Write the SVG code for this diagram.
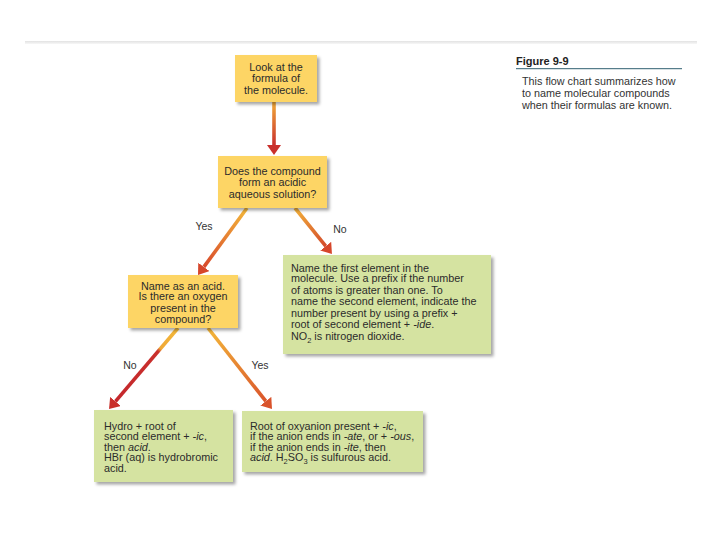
<svg xmlns="http://www.w3.org/2000/svg" width="720" height="540" viewBox="0 0 720 540">
  <style>
    text { font-family: "Liberation Sans", Arial, sans-serif; font-size: 10.8px; fill: #2b2b2b; }
    .c { text-anchor: middle; }
    .lbl { font-size: 10.5px; fill: #333; }
    .yel { fill: #fdd565; }
    .grn { fill: #d5e3a1; }
    .arr { fill: none; stroke-width: 3.6; stroke-linecap: butt; }
    .cap { font-size: 10.8px; fill: #333; }
  </style>
  <defs>
    <filter id="sh" x="-10%" y="-10%" width="125%" height="130%">
      <feDropShadow dx="2.5" dy="2.5" stdDeviation="1.6" flood-color="#000" flood-opacity="0.35"/>
    </filter>
    <linearGradient id="topline" x1="0" y1="0" x2="0" y2="1">
      <stop offset="0" stop-color="#e2e2e2"/>
      <stop offset="1" stop-color="#f7f7f7"/>
    </linearGradient>
    <linearGradient id="g1" gradientUnits="userSpaceOnUse" x1="274" y1="101" x2="274" y2="145">
      <stop offset="0" stop-color="#f2ad38"/>
      <stop offset="1" stop-color="#c9302c"/>
    </linearGradient>
    <linearGradient id="g2" gradientUnits="userSpaceOnUse" x1="247" y1="208" x2="204" y2="267">
      <stop offset="0" stop-color="#f4b83a"/>
      <stop offset="1" stop-color="#d8492b"/>
    </linearGradient>
    <linearGradient id="g3" gradientUnits="userSpaceOnUse" x1="295" y1="208" x2="326" y2="246">
      <stop offset="0" stop-color="#f3b23a"/>
      <stop offset="1" stop-color="#d34a2b"/>
    </linearGradient>
    <linearGradient id="g4" gradientUnits="userSpaceOnUse" x1="178" y1="328" x2="115.5" y2="401.4">
      <stop offset="0" stop-color="#f4b93a"/>
      <stop offset="0.28" stop-color="#efa836"/>
      <stop offset="0.32" stop-color="#c9302c"/>
      <stop offset="1" stop-color="#c4272c"/>
    </linearGradient>
    <linearGradient id="g5" gradientUnits="userSpaceOnUse" x1="208" y1="328" x2="265.8" y2="401.2">
      <stop offset="0" stop-color="#f4b83a"/>
      <stop offset="1" stop-color="#da552b"/>
    </linearGradient>
    <marker id="hRed" markerUnits="userSpaceOnUse" viewBox="0 0 10 14" markerWidth="10" markerHeight="14" refX="0" refY="7" orient="auto">
      <path d="M0,0 L10,7 L0,14 z" fill="#c9302c"/>
    </marker>
    <marker id="hOr" markerUnits="userSpaceOnUse" viewBox="0 0 10 14" markerWidth="10" markerHeight="14" refX="0" refY="7" orient="auto">
      <path d="M0,0 L10,7 L0,14 z" fill="#d6462b"/>
    </marker>
    <marker id="hOr2" markerUnits="userSpaceOnUse" viewBox="0 0 10 14" markerWidth="10" markerHeight="14" refX="0" refY="7" orient="auto">
      <path d="M0,0 L10,7 L0,14 z" fill="#d9532b"/>
    </marker>
  </defs>

  <rect x="0" y="0" width="720" height="540" fill="#ffffff"/>
  <rect x="25" y="41" width="672" height="3" fill="url(#topline)"/>

  <g id="caption">
    <text x="516" y="64.5" style="font-weight:bold;font-size:11px;fill:#222">Figure 9-9</text>
    <line x1="516" y1="68.7" x2="682" y2="68.7" stroke="#2f5f70" stroke-width="1"/>
    <text class="cap" x="522" y="84.5">This flow chart summarizes how</text>
    <text class="cap" x="522" y="96.5">to name molecular compounds</text>
    <text class="cap" x="522" y="108.5">when their formulas are known.</text>
  </g>

  <g id="connectors">
    <line class="arr" x1="274" y1="101" x2="274" y2="145" stroke="url(#g1)" marker-end="url(#hRed)"/>
    <line class="arr" x1="247" y1="208" x2="203.9" y2="266.9" stroke="url(#g2)" marker-end="url(#hOr)"/>
    <line class="arr" x1="295" y1="208" x2="325.7" y2="246.2" stroke="url(#g3)" marker-end="url(#hOr)"/>
    <line class="arr" x1="178" y1="328" x2="115.5" y2="401.4" stroke="url(#g4)" marker-end="url(#hRed)"/>
    <line class="arr" x1="208" y1="328" x2="265.8" y2="401.2" stroke="url(#g5)" marker-end="url(#hOr2)"/>
    <text class="lbl c" x="204" y="230">Yes</text>
    <text class="lbl c" x="340" y="233">No</text>
    <text class="lbl c" x="130" y="369">No</text>
    <text class="lbl c" x="260" y="369">Yes</text>
  </g>

  <g id="n1">
    <rect class="yel" x="235" y="55" width="82" height="47" filter="url(#sh)"/>
    <text class="c" x="276" y="70.5">Look at the</text>
    <text class="c" x="276" y="82">formula of</text>
    <text class="c" x="276" y="93.5">the molecule.</text>
  </g>

  <g id="n2">
    <rect class="yel" x="218" y="156" width="109" height="52" filter="url(#sh)"/>
    <text class="c" x="272.5" y="174.5">Does the compound</text>
    <text class="c" x="272.5" y="186">form an acidic</text>
    <text class="c" x="272.5" y="197.5">aqueous solution?</text>
  </g>

  <g id="n3">
    <rect class="yel" x="128" y="275" width="110" height="53" filter="url(#sh)"/>
    <text class="c" x="183" y="289.5">Name as an acid.</text>
    <text class="c" x="183" y="300">Is there an oxygen</text>
    <text class="c" x="183" y="311.5">present in the</text>
    <text class="c" x="183" y="323">compound?</text>
  </g>

  <g id="n4">
    <rect class="grn" x="283" y="255" width="208" height="99" filter="url(#sh)"/>
    <text x="291" y="271.5">Name the first element in the</text>
    <text x="291" y="282">molecule. Use a prefix if the number</text>
    <text x="291" y="293.5">of atoms is greater than one. To</text>
    <text x="291" y="305">name the second element, indicate the</text>
    <text x="291" y="316.5">number present by using a prefix +</text>
    <text x="291" y="328">root of second element + <tspan font-style="italic">-ide</tspan>.</text>
    <text x="291" y="340">NO<tspan font-size="7.5" dy="2.5">2</tspan><tspan dy="-2.5"> is nitrogen dioxide.</tspan></text>
  </g>

  <g id="n5">
    <rect class="grn" x="94" y="410" width="139" height="72" filter="url(#sh)"/>
    <text x="104" y="429.5">Hydro + root of</text>
    <text x="104" y="440">second element + <tspan font-style="italic">-ic</tspan>,</text>
    <text x="104" y="450.5">then <tspan font-style="italic">acid</tspan>.</text>
    <text x="104" y="461">HBr (aq) is hydrobromic</text>
    <text x="104" y="471.5">acid.</text>
  </g>

  <g id="n6">
    <rect class="grn" x="242" y="411" width="181" height="61" filter="url(#sh)"/>
    <text x="250" y="429.5">Root of oxyanion present + <tspan font-style="italic">-ic</tspan>,</text>
    <text x="250" y="440">if the anion ends in <tspan font-style="italic">-ate</tspan>, or + <tspan font-style="italic">-ous</tspan>,</text>
    <text x="250" y="450.5">if the anion ends in <tspan font-style="italic">-ite</tspan>, then</text>
    <text x="250" y="461"><tspan font-style="italic">acid</tspan>. H<tspan font-size="7.5" dy="2.5">2</tspan><tspan dy="-2.5">SO</tspan><tspan font-size="7.5" dy="2.5">3</tspan><tspan dy="-2.5"> is sulfurous acid.</tspan></text>
  </g>
</svg>
